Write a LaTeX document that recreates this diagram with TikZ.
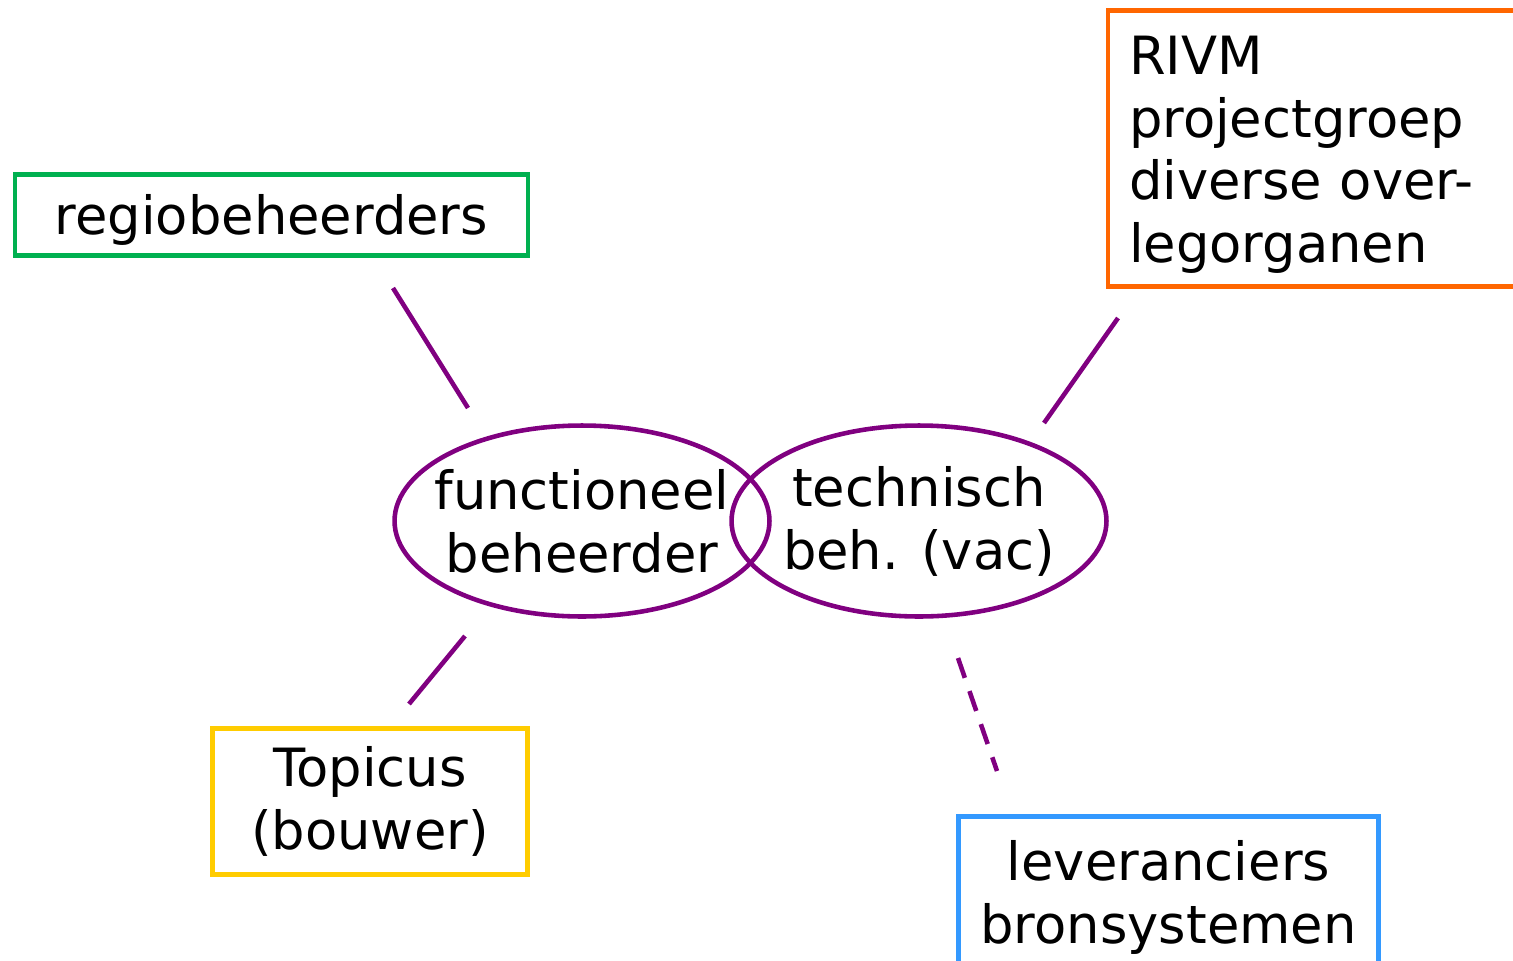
\documentclass[tikz,border=0pt]{standalone}
\usepackage{fontspec}
\setmainfont{DejaVu Sans}
\usetikzlibrary{shapes.geometric}
\definecolor{paars}{HTML}{800080}
\definecolor{groen}{HTML}{00B050}
\definecolor{oranje}{HTML}{FF6600}
\definecolor{geel}{HTML}{FFCC00}
\definecolor{blauw}{HTML}{3399FF}
\begin{document}
\begin{tikzpicture}[x=0.02cm, y=-0.02cm,
    every node/.style={font=\fontsize{30}{35.8}\selectfont},
    kader/.style={draw, rectangle, line width=2.5pt, inner sep=0pt, align=center},
    rol/.style={draw=paars, ellipse, line width=2.6pt, inner sep=-0.6cm, align=center,
        minimum width=7.5cm, minimum height=3.82cm},
    lijn/.style={paars, line width=2.6pt}]
    % Kader
    \useasboundingbox (0,0) rectangle (1513,960);
    \clip (0,0) rectangle (1513,960);
    % Rollen
    \node[rol] (fb) at (582,521) {functioneel\\beheerder};
    \node[rol] (tb) at (919,521) {technisch\\beh. (vac)};
    % Partijen
    \node[kader, draw=groen, minimum width=10.26cm, minimum height=1.62cm] (regio) at (271.5,215) {\rule{0pt}{29pt}regiobeheerders};
    \node[kader, draw=oranje, align=left, text width=7.6cm, inner xsep=0.42cm, minimum height=5.52cm] (rivm) at (1319,148.5)
        {\rule{0pt}{29pt}RIVM\\projectgroep\\diverse over-\\legorganen};
    \node[kader, draw=geel, minimum width=6.3cm, minimum height=2.92cm] (topicus) at (370,801.5) {Topicus\\(bouwer)};
    \node[kader, draw=blauw, minimum width=8.4cm, minimum height=3.22cm] (lev) at (1168.5,897) {leveranciers\\bronsystemen};
    % Verbindingen
    \coordinate (regio-a) at (393,288);
    \coordinate (regio-b) at (468,408);
    \coordinate (topicus-a) at (465,636);
    \coordinate (topicus-b) at (409,704);
    \coordinate (rivm-a) at (1118,318);
    \coordinate (rivm-b) at (1044,423);
    \coordinate (lev-a) at (958,658);
    \coordinate (lev-b) at (997,771);
    \draw[lijn] (regio-a) -- (regio-b);
    \draw[lijn] (topicus-a) -- (topicus-b);
    \draw[lijn] (rivm-a) -- (rivm-b);
    \draw[lijn, dash pattern=on 0.42cm off 0.28cm] (lev-a) -- (lev-b);
\end{tikzpicture}
\end{document}
